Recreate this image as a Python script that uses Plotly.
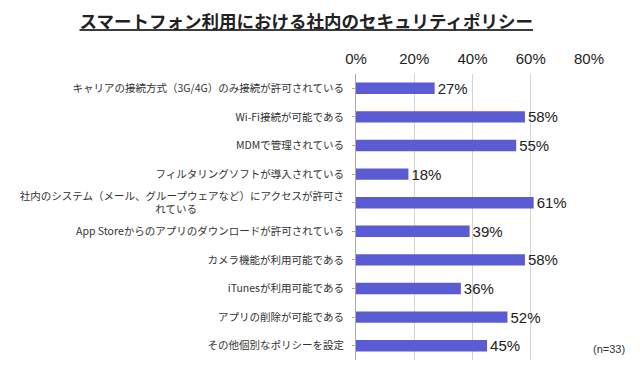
import plotly.graph_objects as go

categories = [
    "キャリアの接続方式（3G/4G）のみ接続が許可されている",
    "Wi-Fi接続が可能である",
    "MDMで管理されている",
    "フィルタリングソフトが導入されている",
    "社内のシステム（メール、グループウェアなど）にアクセスが許可さ<br>れている" + "\u3000" * 14,
    "App Storeからのアプリのダウンロードが許可されている",
    "カメラ機能が利用可能である",
    "iTunesが利用可能である",
    "アプリの削除が可能である",
    "その他個別なポリシーを設定",
]
values = [27, 58, 55, 18, 61, 39, 58, 36, 52, 45]
tick_vals = [0, 20, 40, 60, 80]
tick_text = ["0%", "20%", "40%", "60%", "80%"]
title_text = "スマートフォン利用における社内のセキュリティポリシー"
note_text = "(n=33)"

D = 8  # page offset compensation

fig = go.Figure(go.Bar(
    x=values,
    y=categories,
    orientation="h",
    marker=dict(color="#5B5BD3", line=dict(width=0)),
    text=[f"{v}%" for v in values],
    textposition="outside",
    constraintext="none",
    cliponaxis=False,
    textfont=dict(family="Liberation Sans", size=15, color="#222222"),
    width=0.4,
))

fig.update_layout(
    width=640, height=371,
    margin=dict(l=346 - D, r=51 + D, t=74 - D, b=11 + D),
    paper_bgcolor="white", plot_bgcolor="white",
    showlegend=False,
    title=dict(
        text="<b><u>" + title_text + "</u></b>",
        x=0.466, xanchor="center", y=1 - 14 / 371, yanchor="middle",
        font=dict(family="Noto Sans CJK JP", size=17.5, color="#222222"),
    ),
    xaxis=dict(
        side="top", range=[0, 80], tickvals=tick_vals, ticktext=tick_text,
        showgrid=True, gridcolor="#d4d4d4", gridwidth=1,
        zeroline=False, showline=False, ticks="", ticklabelstandoff=6,
        tickfont=dict(family="Liberation Sans", size=15, color="#222222"),
        fixedrange=True,
    ),
    yaxis=dict(
        autorange="reversed", showline=True, linecolor="#aaaaaa", linewidth=1,
        ticks="outside", ticklen=3, tickcolor="#aaaaaa",
        tickfont=dict(family="Noto Sans CJK JP", size=10.5, color="#333333"),
        showgrid=False, ticklabelstandoff=6,
    ),
    bargap=0.6,
    annotations=[dict(
        text=note_text, xref="paper", yref="paper", x=1.01, y=0.04,
        xanchor="left", yanchor="middle", showarrow=False,
        font=dict(family="Liberation Sans", size=11, color="#333333"),
    )],
)

fig.write_html("out.html")
